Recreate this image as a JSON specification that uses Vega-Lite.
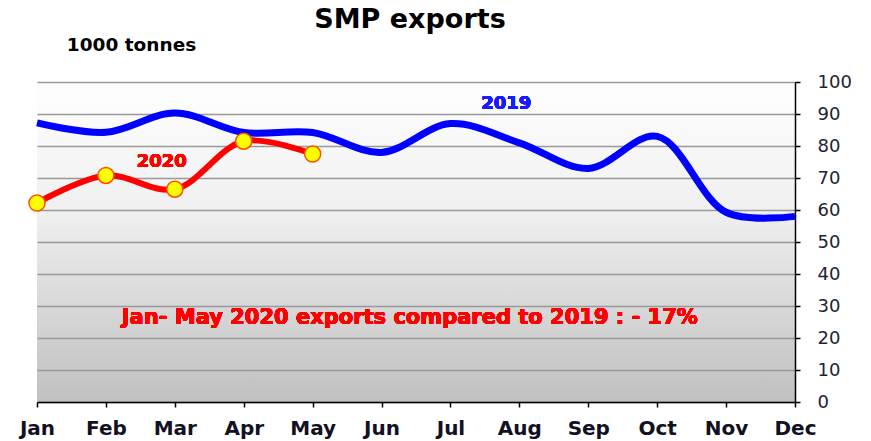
{
  "$schema": "https://vega.github.io/schema/vega-lite/v6.json",
  "width": 758,
  "height": 320,
  "autosize": "none",
  "padding": {"left": 37, "top": 82, "right": 76, "bottom": 39},
  "background": "white",
  "title": {
    "text": "SMP exports",
    "anchor": "middle",
    "dx": -6,
    "offset": 1,
    "font": "DejaVu Sans",
    "fontSize": 27,
    "fontWeight": "bold",
    "color": "#000000"
  },
  "config": {
    "view": {
      "stroke": null,
      "fill": {
        "gradient": "linear",
        "x1": 0, "y1": 0, "x2": 0, "y2": 1,
        "stops": [
          {"offset": 0, "color": "#ffffff"},
          {"offset": 0.4, "color": "#f0f0f0"},
          {"offset": 1, "color": "#c0c0c0"}
        ]
      }
    }
  },
  "data": {
    "values": [
      {"month": 1, "series": "2019", "value": 87.2},
      {"month": 2, "series": "2019", "value": 84.3},
      {"month": 3, "series": "2019", "value": 90.3},
      {"month": 4, "series": "2019", "value": 84.2},
      {"month": 5, "series": "2019", "value": 84.2},
      {"month": 6, "series": "2019", "value": 78.0},
      {"month": 7, "series": "2019", "value": 87.0},
      {"month": 8, "series": "2019", "value": 81.0},
      {"month": 9, "series": "2019", "value": 73.0},
      {"month": 10, "series": "2019", "value": 83.0},
      {"month": 11, "series": "2019", "value": 59.3},
      {"month": 12, "series": "2019", "value": 58.0},
      {"month": 1, "series": "2020", "value": 62.2},
      {"month": 2, "series": "2020", "value": 70.8},
      {"month": 3, "series": "2020", "value": 66.5},
      {"month": 4, "series": "2020", "value": 81.5},
      {"month": 5, "series": "2020", "value": 77.5}
    ]
  },
  "encoding": {
    "x": {
      "field": "month",
      "type": "quantitative",
      "scale": {"domain": [1, 12], "nice": false, "zero": false},
      "axis": {
        "title": null,
        "values": [1, 2, 3, 4, 5, 6, 7, 8, 9, 10, 11, 12],
        "labelExpr": "['Jan','Feb','Mar','Apr','May','Jun','Jul','Aug','Sep','Oct','Nov','Dec'][datum.value-1]",
        "grid": false,
        "domainColor": "#000000",
        "domainWidth": 1.5,
        "tickColor": "#000000",
        "tickWidth": 1.5,
        "tickSize": 5,
        "labelPadding": 11,
        "labelFont": "DejaVu Sans",
        "labelFontSize": 20,
        "labelFontWeight": "bold",
        "labelColor": "#111122",
        "labelFlush": false,
        "labelOverlap": false
      }
    },
    "y": {
      "field": "value",
      "type": "quantitative",
      "scale": {"domain": [0, 100], "nice": false},
      "axis": {
        "orient": "right",
        "title": "1000 tonnes",
        "titleAngle": 0,
        "titleX": -664,
        "titleY": -38,
        "titleAlign": "center",
        "titleBaseline": "middle",
        "titleFont": "DejaVu Sans",
        "titleFontSize": 18.5,
        "titleFontWeight": "bold",
        "titleColor": "#000000",
        "values": [0, 10, 20, 30, 40, 50, 60, 70, 80, 90, 100],
        "grid": true,
        "gridColor": "#999999",
        "gridWidth": 1.5,
        "domainColor": "#000000",
        "domainWidth": 1.5,
        "tickColor": "#000000",
        "tickWidth": 1.5,
        "tickSize": 5,
        "labelPadding": 17,
        "labelFont": "DejaVu Sans",
        "labelFontSize": 18,
        "labelColor": "#222233",
        "labelFlush": false
      }
    }
  },
  "layer": [
    {
      "transform": [{"filter": "datum.series == '2019'"}],
      "mark": {"type": "line", "interpolate": "catmull-rom", "strokeWidth": 7, "color": "#0000ff"}
    },
    {
      "transform": [{"filter": "datum.series == '2020'"}],
      "mark": {"type": "line", "interpolate": "catmull-rom", "strokeWidth": 6, "color": "#ff0000"}
    },
    {
      "transform": [{"filter": "datum.series == '2020'"}],
      "mark": {"type": "point", "filled": true, "fill": "#ffff00", "stroke": "#ff5000", "strokeWidth": 1.5, "size": 260, "opacity": 1}
    },
    {
      "mark": {"type": "text", "font": "DejaVu Sans", "fontSize": 18, "fontWeight": "bold", "color": "#1a1aff", "align": "center", "baseline": "middle"},
      "encoding": {"x": {"datum": 7.81}, "y": {"datum": 93.1}, "text": {"value": "2019"}}
    },
    {
      "mark": {"type": "text", "font": "DejaVu Sans", "fontSize": 18, "fontWeight": "bold", "color": "#ff0000", "align": "center", "baseline": "middle"},
      "encoding": {"x": {"datum": 2.81}, "y": {"datum": 75}, "text": {"value": "2020"}}
    },
    {
      "mark": {"type": "text", "font": "DejaVu Sans", "fontSize": 21, "fontWeight": "bold", "color": "#ff0000", "align": "center", "baseline": "middle"},
      "encoding": {"x": {"datum": 6.41}, "y": {"datum": 26.3}, "text": {"value": "Jan- May 2020 exports compared to 2019 : - 17%"}}
    }
  ]
}
